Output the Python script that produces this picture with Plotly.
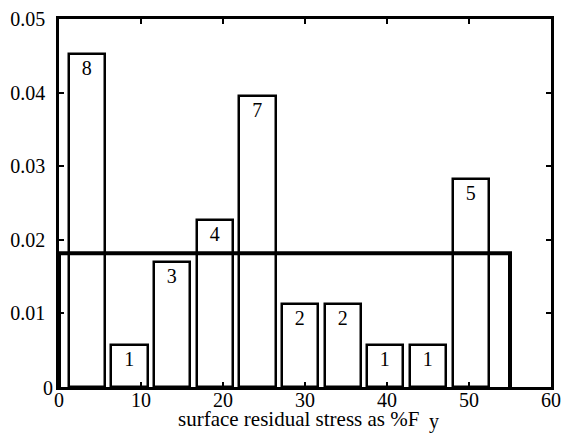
import plotly.graph_objects as go

# Histogram of surface residual stress (as % of Fy), shown as a density,
# with a uniform 0-55 density drawn over it.
bin_centers = [3.4, 8.6, 13.8, 19.0, 24.2, 29.4, 34.6, 39.8, 45.0, 50.2]
counts = [8, 1, 3, 4, 7, 2, 2, 1, 1, 5]
bin_width = 5.2
uniform_lo, uniform_hi = 0, 55

x_ticks = [0, 10, 20, 30, 40, 50, 60]
y_ticks = [0, 0.01, 0.02, 0.03, 0.04, 0.05]
y_tick_text = ["", "0.01", "0.02", "0.03", "0.04", "0.05"]

n_total = sum(counts)
density = [c / (n_total * bin_width) for c in counts]
u_height = 1 / (uniform_hi - uniform_lo)

SERIF = "Liberation Serif"
FONT = dict(family=SERIF, size=20, color="black")
TITLE_FONT = dict(family=SERIF, size=21, color="black")

W, H = 562, 436
ML, MR, MT, MB = 59, 8, 15, 49
PW, PH = W - ML - MR, H - MT - MB


def px_to_paper(px, py):
    """Pixel position (from top-left of the page) to paper coordinates."""
    return (px - ML) / PW, (H - MB - py) / PH


fig = go.Figure()
fig.add_trace(go.Bar(
    x=bin_centers, y=density, width=bin_width * 0.85,
    marker=dict(color="white", line=dict(color="black", width=2.5)),
    text=[str(c) for c in counts], textposition="inside",
    insidetextanchor="end", textangle=0, constraintext="none",
    textfont=dict(family=SERIF, size=20, color="black"),
    showlegend=False, hoverinfo="skip",
))
fig.add_trace(go.Scatter(
    x=[uniform_lo, uniform_lo, uniform_hi, uniform_hi],
    y=[0, u_height, u_height, 0],
    mode="lines", line=dict(color="black", width=4),
    showlegend=False, hoverinfo="skip",
))

axis_common = dict(
    showgrid=False, zeroline=False, showline=True, linecolor="black",
    linewidth=2.5, mirror="ticks", ticks="inside", ticklen=5,
    tickwidth=2, tickcolor="black", tickfont=FONT,
)
fig.update_xaxes(range=[0, 60], tickvals=x_ticks, showticklabels=False,
                 **axis_common)
fig.update_yaxes(range=[0, 0.05], tickvals=y_ticks, ticktext=y_tick_text,
                 ticklabelstandoff=7, **axis_common)

# x tick labels, set just under the axis
for xv in x_ticks:
    fig.add_annotation(text=str(xv), x=xv, y=0, xref="x", yref="y",
                       xanchor="center", yanchor="middle", yshift=-13,
                       showarrow=False, font=FONT)

# y "0" label sits tucked into the corner
fig.add_annotation(text="0", x=0, y=0, xref="x", yref="y",
                   xanchor="right", yanchor="middle", xshift=-4, yshift=-1,
                   showarrow=False, font=FONT)

tx, ty = px_to_paper(300, 419)
fig.add_annotation(text="surface residual stress as %F", x=tx, y=ty,
                   xref="paper", yref="paper", xanchor="center",
                   yanchor="middle", showarrow=False, font=TITLE_FONT)
sx, sy = px_to_paper(436, 436)
fig.add_annotation(text="y", x=sx, y=sy, xref="paper", yref="paper",
                   xanchor="center", yanchor="bottom", showarrow=False,
                   font=FONT)

fig.update_layout(
    width=W, height=H,
    margin=dict(l=ML, r=MR, t=MT, b=MB),
    plot_bgcolor="white", paper_bgcolor="white",
    bargap=0,
)

fig.write_html("out.html")
